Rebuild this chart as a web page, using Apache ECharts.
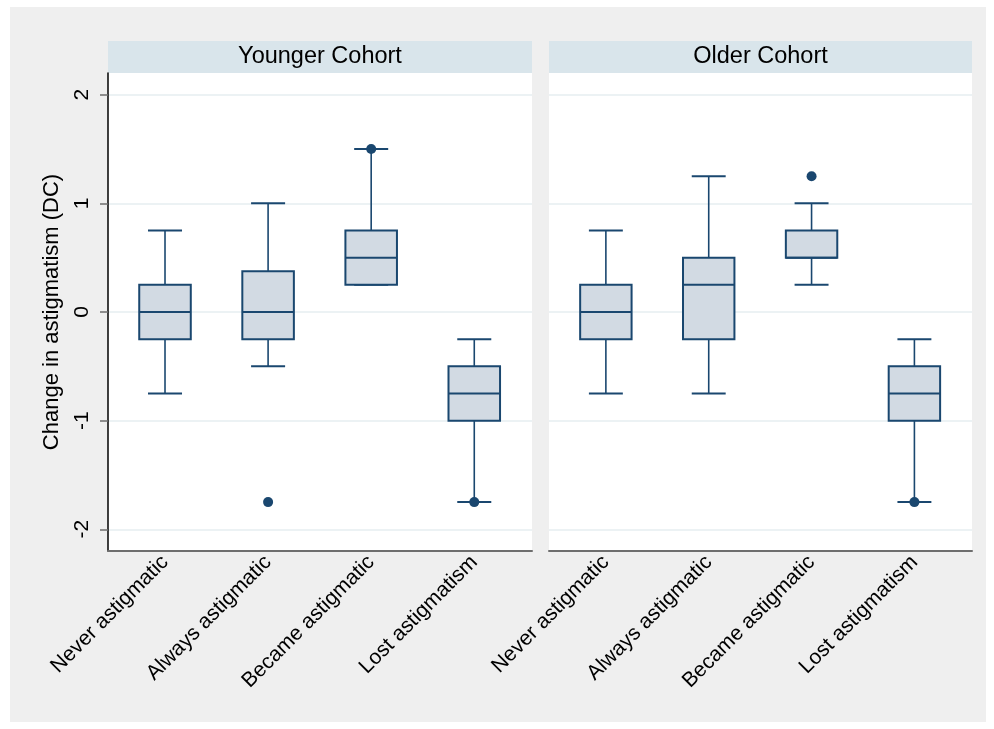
<!DOCTYPE html>
<html>
<head>
<meta charset="utf-8">
<script src="https://cdn.jsdelivr.net/npm/echarts@6/dist/echarts.min.js"></script>
<style>html,body{margin:0;padding:0;background:#fff;}#c{width:994px;height:729px;}</style>
</head>
<body>
<div id="c"></div>
<script>
const categories = ['Never astigmatic', 'Always astigmatic', 'Became astigmatic', 'Lost astigmatism'];
const panelTitles = ['Younger Cohort', 'Older Cohort'];
const yTicks = [-2, -1, 0, 1, 2];

const youngerMin    = [-0.75, -0.5,  0.25, -1.75];
const youngerQ1     = [-0.25, -0.25, 0.25, -1.0];
const youngerMedian = [0,     0,     0.5,  -0.75];
const youngerQ3     = [0.25,  0.375, 0.75, -0.5];
const youngerMax    = [0.75,  1.0,   1.5,  -0.25];
const youngerOutlierCat = [2, 3, 4];
const youngerOutlierVal = [-1.75, 1.5, -1.75];

const olderMin    = [-0.75, -0.75, 0.25, -1.75];
const olderQ1     = [-0.25, -0.25, 0.5,  -1.0];
const olderMedian = [0,     0.25,  0.5,  -0.75];
const olderQ3     = [0.25,  0.5,   0.75, -0.5];
const olderMax    = [0.75,  1.25,  1.0,  -0.25];
const olderOutlierCat = [3, 4];
const olderOutlierVal = [1.25, -1.75];

const NAVY = '#1a476f';
const FILL = '#d2dae3';

function boxData(mn, q1, md, q3, mx) {
  return categories.map((c, i) => [i + 1, mn[i], q1[i], md[i], q3[i], mx[i]]);
}
function outlierData(cat, val) {
  return cat.map((c, i) => [c, val[i]]);
}

function renderBox(params, api) {
  const x = api.value(0);
  const pMin = api.coord([x, api.value(1)]);
  const pQ1 = api.coord([x, api.value(2)]);
  const pMed = api.coord([x, api.value(3)]);
  const pQ3 = api.coord([x, api.value(4)]);
  const pMax = api.coord([x, api.value(5)]);
  const unit = api.size([1, 0])[0];
  const bw = unit * 0.5, cw = unit * 0.33;
  const cx = pMed[0];
  const wStyle = { stroke: NAVY, lineWidth: 1.6 };
  return {
    type: 'group',
    children: [
      { type: 'line', shape: { x1: cx, y1: pQ3[1], x2: cx, y2: pMax[1] }, style: wStyle },
      { type: 'line', shape: { x1: cx, y1: pMin[1], x2: cx, y2: pQ1[1] }, style: wStyle },
      { type: 'line', shape: { x1: cx - cw / 2, y1: pMax[1], x2: cx + cw / 2, y2: pMax[1] }, style: { stroke: NAVY, lineWidth: 2 } },
      { type: 'line', shape: { x1: cx - cw / 2, y1: pMin[1], x2: cx + cw / 2, y2: pMin[1] }, style: { stroke: NAVY, lineWidth: 2 } },
      { type: 'rect', shape: { x: cx - bw / 2, y: pQ3[1], width: bw, height: pQ1[1] - pQ3[1] }, style: { fill: FILL, stroke: NAVY, lineWidth: 2 } },
      { type: 'line', shape: { x1: cx - bw / 2, y1: pMed[1], x2: cx + bw / 2, y2: pMed[1] }, style: { stroke: NAVY, lineWidth: 2 } }
    ]
  };
}

const FONT = 'Liberation Sans, Arial, sans-serif';
const grids = [
  { left: 108, top: 73, width: 424, height: 478 },
  { left: 549, top: 73, width: 423, height: 478 }
];

function xAxis(idx) {
  return {
    type: 'value', gridIndex: idx, min: 0.447, max: 4.56,
    axisLine: { show: true, onZero: false, lineStyle: { color: '#6e6e6e', width: 2 } },
    axisTick: { show: false },
    splitLine: { show: false },
    axisLabel: {
      customValues: [1, 2, 3, 4],
      formatter: v => categories[Math.round(v) - 1],
      rotate: 45, margin: 8, color: '#000', fontSize: 21, fontFamily: FONT
    }
  };
}
function yAxis(idx) {
  const first = idx === 0;
  return {
    type: 'value', gridIndex: idx, min: -2.2, max: 2.2,
    name: first ? 'Change in astigmatism (DC)' : '',
    nameLocation: 'middle', nameGap: 45,
    nameTextStyle: { color: '#000', fontSize: 22, fontFamily: FONT },
    axisLine: { show: first, onZero: false, lineStyle: { color: '#000', width: 1.5 } },
    axisTick: { show: first, customValues: yTicks, length: 8, lineStyle: { color: '#6e6e6e', width: 1.5 } },
    splitLine: { show: true, lineStyle: { color: '#e6eef1', width: 1.5 } },
    axisLabel: {
      show: first, customValues: yTicks, rotate: 90, align: 'center', verticalAlign: 'middle',
      margin: 26, color: '#000', fontSize: 21, fontFamily: FONT
    }
  };
}

const chart = echarts.init(document.getElementById('c'), null, { renderer: 'canvas' });
chart.setOption({
  backgroundColor: '#ffffff',
  animation: false,
  graphic: [
    { type: 'rect', z: -100, shape: { x: 10, y: 7, width: 976, height: 715 }, style: { fill: '#efefef' } },
    { type: 'rect', shape: { x: 108, y: 41, width: 424, height: 32 }, style: { fill: '#d9e5eb' } },
    { type: 'rect', shape: { x: 549, y: 41, width: 423, height: 32 }, style: { fill: '#d9e5eb' } },
    { type: 'text', x: 320, y: 57, style: { text: panelTitles[0], fill: '#000', font: '23.5px ' + FONT, align: 'center', verticalAlign: 'middle' } },
    { type: 'text', x: 760.5, y: 57, style: { text: panelTitles[1], fill: '#000', font: '23.5px ' + FONT, align: 'center', verticalAlign: 'middle' } }
  ],
  grid: grids.map(g => Object.assign({ show: true, backgroundColor: '#ffffff', borderWidth: 0 }, g)),
  xAxis: [xAxis(0), xAxis(1)],
  yAxis: [yAxis(0), yAxis(1)],
  series: [
    { type: 'custom', xAxisIndex: 0, yAxisIndex: 0, renderItem: renderBox, encode: { x: 0, y: [1, 2, 3, 4, 5] },
      data: boxData(youngerMin, youngerQ1, youngerMedian, youngerQ3, youngerMax) },
    { type: 'custom', xAxisIndex: 1, yAxisIndex: 1, renderItem: renderBox, encode: { x: 0, y: [1, 2, 3, 4, 5] },
      data: boxData(olderMin, olderQ1, olderMedian, olderQ3, olderMax) },
    { type: 'scatter', xAxisIndex: 0, yAxisIndex: 0, symbolSize: 10, itemStyle: { color: NAVY, opacity: 1 }, z: 5,
      data: outlierData(youngerOutlierCat, youngerOutlierVal) },
    { type: 'scatter', xAxisIndex: 1, yAxisIndex: 1, symbolSize: 10, itemStyle: { color: NAVY, opacity: 1 }, z: 5,
      data: outlierData(olderOutlierCat, olderOutlierVal) }
  ]
});
</script>
</body>
</html>
